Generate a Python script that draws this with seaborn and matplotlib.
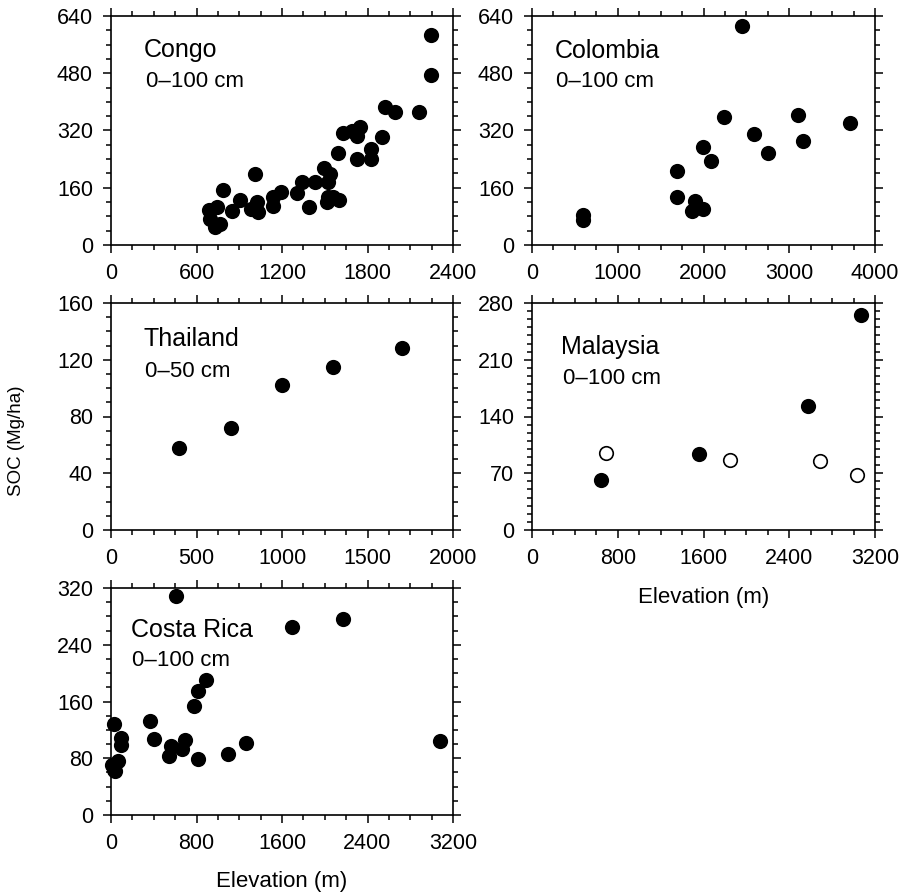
import numpy as np
import pandas as pd
import matplotlib
matplotlib.use('Agg')
import matplotlib.pyplot as plt
from matplotlib.ticker import MultipleLocator
import seaborn as sns

# elevation (m) and SOC stock (Mg/ha)
congo_elev = [2245, 2245, 1924, 1994, 2158, 1900, 1626, 1689, 1748, 1729, 1591, 1823, 1823,
              1729, 1497, 1537, 1525, 1337, 1431, 1302, 1196, 1138, 1138, 1391, 1513, 1560,
              1602, 1520, 1009, 1025, 985, 1032, 903, 852, 786, 687, 744, 692, 727, 767]
congo_soc = [587, 476, 385, 371, 371, 301, 313, 318, 329, 304, 258, 267, 239,
             239, 216, 198, 176, 176, 176, 145, 148, 133, 109, 105, 119, 134,
             125, 133, 198, 119, 100, 91, 125, 96, 154, 98, 105, 72, 49, 58]

colombia_elev = [2448, 2240, 3101, 3707, 2592, 3159, 2749, 1994, 2092, 1693, 1693, 1896,
                 1869, 1998, 590, 590]
colombia_soc = [613, 359, 363, 340, 309, 292, 258, 274, 234, 207, 135, 124,
                96, 100, 84, 70]

thailand_elev = [400, 700, 1000, 1300, 1700]
thailand_soc = [58, 72, 102, 115, 128]

malaysia_elev = [640, 1556, 2578, 3066, 688, 1846, 2687, 3035]
malaysia_soc = [62, 94, 153, 265, 95, 86, 85, 68]
malaysia_kind = ['filled', 'filled', 'filled', 'filled', 'open', 'open', 'open', 'open']

costa_elev = [609, 1692, 2170, 890, 812, 774, 365, 31, 94, 94, 406, 696, 562, 665,
              546, 818, 1093, 1264, 3075, 65, 5, 25, 40]
costa_soc = [309, 265, 276, 191, 175, 154, 132, 128, 108, 99, 107, 106, 97, 93,
             83, 79, 86, 101, 105, 76, 70, 63, 62]

sns.set_style('ticks')
plt.rcParams['font.family'] = ['Liberation Sans', 'DejaVu Sans']
plt.rcParams['axes.linewidth'] = 1.2
plt.rcParams['text.color'] = 'black'
plt.rcParams['axes.labelcolor'] = 'black'
plt.rcParams['xtick.color'] = 'black'
plt.rcParams['ytick.color'] = 'black'
plt.rcParams['axes.edgecolor'] = 'black'

W, H = 899, 894
fig = plt.figure(figsize=(W / 100, H / 100), dpi=100)


def px_axes(l, t, r, b):
    return fig.add_axes([l / W, 1 - b / H, (r - l) / W, (b - t) / H])


def style(ax, xmax, xmaj, xmin, ymax, ymaj, ymin):
    ax.set_xlim(0, xmax)
    ax.set_ylim(0, ymax)
    ax.xaxis.set_major_locator(MultipleLocator(xmaj))
    ax.xaxis.set_minor_locator(MultipleLocator(xmin))
    ax.yaxis.set_major_locator(MultipleLocator(ymaj))
    ax.yaxis.set_minor_locator(MultipleLocator(ymin))
    ax.tick_params(which='both', direction='out', top=True, right=True,
                   colors='black', width=1.1)
    ax.tick_params(which='major', length=6, labelsize=15.5, pad=7)
    ax.tick_params(which='minor', length=3.3)
    ax.set_xlabel('')
    ax.set_ylabel('')
    for s in ax.spines.values():
        s.set_color('black')
        s.set_visible(True)


def dots(ax, x, y, face='black'):
    sns.scatterplot(x=x, y=y, ax=ax, s=95, color=face, edgecolor='black',
                    linewidth=1.2, clip_on=False, zorder=3, legend=False)


def label(ax, x, y1, y2, name, depth):
    ax.text(x, y1, name, transform=ax.transAxes, fontsize=18, va='baseline')
    ax.text(x + 0.004, y2, depth, transform=ax.transAxes, fontsize=16, va='baseline')


ax1 = px_axes(111, 16, 453, 245)
dots(ax1, congo_elev, congo_soc)
style(ax1, 2400, 600, 150, 640, 160, 40)
label(ax1, 0.097, 0.82, 0.689, 'Congo', '0–100 cm')

ax2 = px_axes(532, 16, 875, 245)
dots(ax2, colombia_elev, colombia_soc)
style(ax2, 4000, 1000, 250, 640, 160, 40)
label(ax2, 0.067, 0.815, 0.689, 'Colombia', '0–100 cm')

ax3 = px_axes(111, 303, 453, 530)
dots(ax3, thailand_elev, thailand_soc)
style(ax3, 2000, 500, 125, 160, 40, 10)
label(ax3, 0.095, 0.812, 0.675, 'Thailand', '0–50 cm')

ax4 = px_axes(532, 303, 875, 530)
mal = pd.DataFrame({'elev': malaysia_elev, 'soc': malaysia_soc, 'kind': malaysia_kind})
f = mal[mal['kind'] == 'filled']
o = mal[mal['kind'] == 'open']
dots(ax4, o['elev'], o['soc'], face='white')
dots(ax4, f['elev'], f['soc'])
style(ax4, 3200, 800, 200, 280, 70, 10)
label(ax4, 0.085, 0.775, 0.643, 'Malaysia', '0–100 cm')
ax4.set_xlabel('Elevation (m)', fontsize=16, labelpad=13)

ax5 = px_axes(111, 588, 453, 815)
dots(ax5, costa_elev, costa_soc)
style(ax5, 3200, 800, 200, 320, 80, 20)
label(ax5, 0.058, 0.783, 0.656, 'Costa Rica', '0–100 cm')
ax5.set_xlabel('Elevation (m)', fontsize=16, labelpad=12)

fig.text(17 / W, 1 - 441 / H, 'SOC (Mg/ha)', rotation=90, fontsize=13.5,
         ha='center', va='center', color='black')

fig.savefig('out.png', dpi=100)
